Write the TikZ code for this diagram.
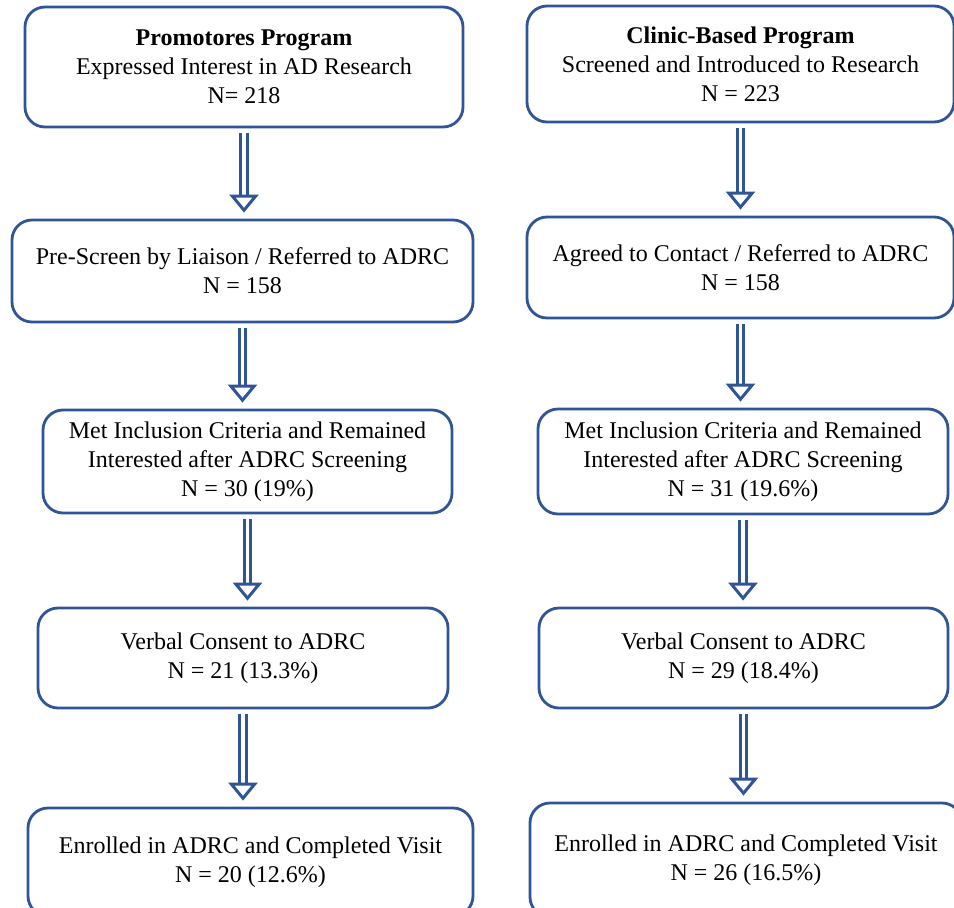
\documentclass[tikz,border=0pt]{standalone}
\usepackage{fontspec}
\setmainfont{Liberation Serif}
\usepackage{tikz}
\usetikzlibrary{arrows.meta}
\definecolor{flowblue}{RGB}{47,85,151}

\begin{document}
\begin{tikzpicture}[
    x=1pt, y=1pt,
    box/.style={
      rectangle, rounded corners=20pt,
      draw=flowblue, line width=2.8pt,
      fill=white, align=center,
      font=\fontsize{24}{29}\selectfont, inner sep=4pt
    },
    arr/.style={
      draw=flowblue, line width=3pt,
      double=white, double distance=3.5pt,
      -{Triangle[open, width=29pt, length=18pt]},
      shorten <=5pt, shorten >=6pt
    }
  ]
    \clip (0,0) rectangle (954,-908);

    % Promotores column
    \node[box, minimum width=438pt, minimum height=120pt] (prom1) at (244,-67) {
      \textbf{Promotores Program}\\
      Expressed Interest in AD Research\\
      N= 218
    };
    \node[box, minimum width=461pt, minimum height=102pt] (prom2) at (242.5,-271) {
      Pre-Screen by Liaison / Referred to ADRC\\
      N = 158
    };
    \node[box, minimum width=409pt, minimum height=103pt] (prom3) at (247.5,-461.5) {
      Met Inclusion Criteria and Remained\\
      Interested after ADRC Screening\\
      N = 30 (19\%)
    };
    \node[box, minimum width=410pt, minimum height=100pt] (prom4) at (243,-658) {
      Verbal Consent to ADRC\\
      N = 21 (13.3\%)
    };
    \node[box, minimum width=445pt, minimum height=108pt] (prom5) at (250.5,-862) {
      Enrolled in ADRC and Completed Visit\\
      N = 20 (12.6\%)
    };

    % Clinic-based column
    \node[box, minimum width=427pt, minimum height=116pt] (clin1) at (740.5,-64) {
      \textbf{Clinic-Based Program}\\
      Screened and Introduced to Research\\
      N = 223
    };
    \node[box, minimum width=427pt, minimum height=101pt] (clin2) at (740.5,-267.5) {
      Agreed to Contact / Referred to ADRC\\
      N = 158
    };
    \node[box, minimum width=410pt, minimum height=105pt] (clin3) at (743,-461.5) {
      Met Inclusion Criteria and Remained\\
      Interested after ADRC Screening\\
      N = 31 (19.6\%)
    };
    \node[box, minimum width=409pt, minimum height=100pt] (clin4) at (743.5,-658) {
      Verbal Consent to ADRC\\
      N = 29 (18.4\%)
    };
    \node[box, minimum width=432pt, minimum height=114pt] (clin5) at (746,-860) {
      Enrolled in ADRC and Completed Visit\\
      N = 26 (16.5\%)
    };

    \foreach \i [evaluate=\i as \j using int(\i+1)] in {1,...,4} {
      \draw[arr] (prom\i.south) -- (prom\i.south |- prom\j.north);
      \draw[arr] (clin\i.south) -- (clin\i.south |- clin\j.north);
    }
  \end{tikzpicture}
\end{document}
